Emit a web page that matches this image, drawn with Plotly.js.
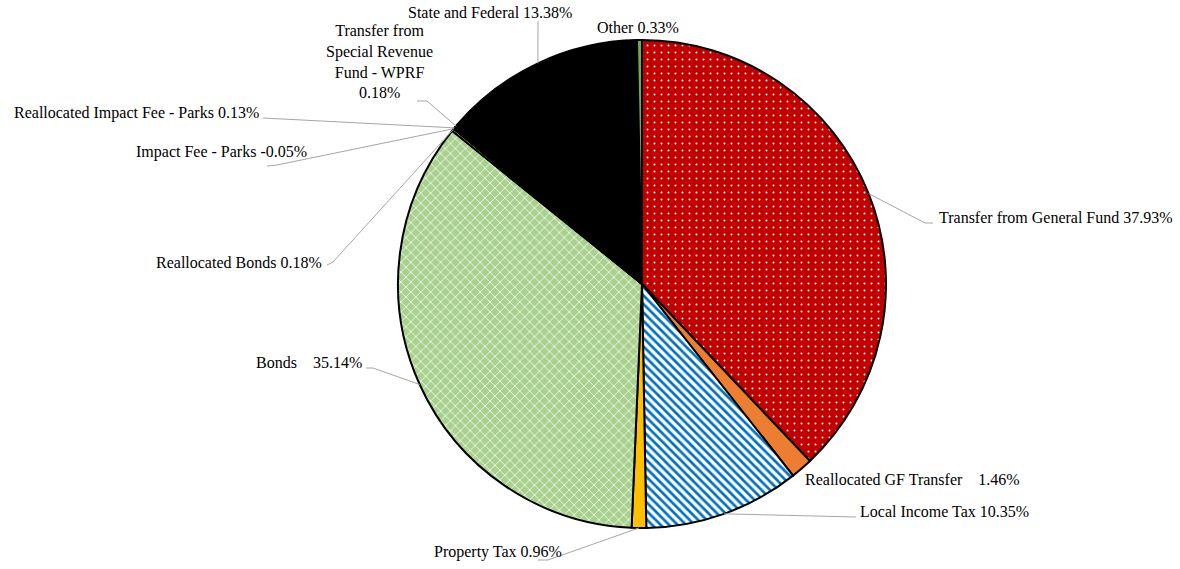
<!DOCTYPE html>
<html>
<head>
<meta charset="utf-8">
<script src="https://cdn.plot.ly/plotly-3.0.1.min.js"></script>
<style>html,body{margin:0;padding:0;background:#fff;}#chart{width:1180px;height:569px;}</style>
</head>
<body>
<div id="chart"></div>
<script>
// ---- data ----
const categories = [
  "Transfer from General Fund",
  "Reallocated GF Transfer",
  "Local Income Tax",
  "Property Tax",
  "Bonds",
  "Reallocated Bonds",
  "Impact Fee - Parks",
  "Reallocated Impact Fee - Parks",
  "Transfer from Special Revenue Fund - WPRF",
  "State and Federal",
  "Other"
];
const shares = [37.93, 1.46, 10.35, 0.96, 35.14, 0.18, -0.05, 0.13, 0.18, 13.38, 0.33];
const labelTexts = [
  "Transfer from General Fund 37.93%",
  "Reallocated GF Transfer\u00a0\u00a0\u00a0 1.46%",
  "Local Income Tax 10.35%",
  "Property Tax 0.96%",
  "Bonds\u00a0\u00a0\u00a0 35.14%",
  "Reallocated Bonds 0.18%",
  "Impact Fee - Parks -0.05%",
  "Reallocated Impact Fee - Parks 0.13%",
  "Transfer from<br>Special Revenue<br>Fund - WPRF<br>0.18%",
  "State and Federal 13.38%",
  "Other 0.33%"
];

// ---- styles ----
const sliceColors = ["#C00000","#ED7D31","#FFFFFF","#FFC000","#A9D18E","#A9D18E","#A9D18E","#375623","#000000","#000000","#70AD47"];
const patShapes   = [".", "", "\\", "", "x", "x", "", "", "", "", ""];
const patFg       = ["#FFFFFF","#000000","#0070C0","#000000","#FFFFFF","#FFFFFF","#000000","#000000","#000000","#000000","#000000"];
const patBg       = ["#C00000","#ED7D31","#FFFFFF","#FFC000","#A9D18E","#A9D18E","#A9D18E","#375623","#000000","#000000","#70AD47"];
const patSize     = [7,8,6,8,7,7,8,8,8,8,8];
const patSolid    = [0.06,0.3,0.45,0.3,0.2,0.2,0.3,0.3,0.3,0.3,0.3];

const FONT = '"Liberation Serif", "Times New Roman", Times, serif';
const W = 1180, H = 569;
const CX = 642, CY = 284, R = 244;
const px = x => x / W;
const py = y => 1 - y / H;

// label layout: [x, y, xanchor, leader-line points from text side (pixels)]
const labelLayout = [
  {x: 937, y: 217, xa: "left",   pts: [[933,223],[925,223]]},
  {x: 803, y: 479, xa: "left",   pts: null},
  {x: 858, y: 512, xa: "left",   pts: [[856,517]]},
  {x: 564, y: 552, xa: "right",  pts: [[538,560],[548,560]]},
  {x: 364, y: 363, xa: "right",  pts: [[366,368],[373,368]]},
  {x: 324, y: 262, xa: "right",  pts: [[327,265],[333,262]]},
  {x: 309, y: 152, xa: "right",  pts: [[267,166],[277,165]]},
  {x: 261, y: 113, xa: "right",  pts: [[263,118]]},
  {x: 380, y: 61,  xa: "center", pts: [[417,101],[427,101]]},
  {x: 490, y: 13,  xa: "center", pts: [[538,21]]},
  {x: 638, y: 28,  xa: "center", pts: null}
];

// anchor points on the pie rim, from the data (negative values occupy no angle)
const positive = shares.map(v => Math.max(v, 0));
const total = positive.reduce((a, b) => a + b, 0);
let cum = 0;
const rimPts = positive.map(v => {
  const mid = cum + v / 2;
  cum += v;
  const ang = mid / total * 2 * Math.PI;
  return [CX + R * Math.sin(ang), CY - R * Math.cos(ang)];
});

const annotations = labelTexts.map((t, i) => ({
  text: t, showarrow: false,
  xref: "paper", yref: "paper",
  x: px(labelLayout[i].x), y: py(labelLayout[i].y),
  xanchor: labelLayout[i].xa, yanchor: "middle",
  align: "center",
  font: {family: FONT, size: 16, color: "#000"}
}));

const shapes = [];
labelLayout.forEach((L, i) => {
  if (!L.pts) return;
  const all = L.pts.concat([rimPts[i]]);
  const d = all.map((p, k) => (k ? "L" : "M") + px(p[0]) + "," + py(p[1])).join(" ");
  shapes.push({type: "path", xref: "paper", yref: "paper", path: d,
    line: {color: "#A6A6A6", width: 1}});
});

const trace = {
  type: "pie",
  labels: categories,
  values: positive,
  sort: false,
  direction: "clockwise",
  rotation: 0,
  textinfo: "none",
  hoverinfo: "label+percent",
  showlegend: false,
  domain: {x: [px(CX - R), px(CX + R)], y: [py(CY + R), py(CY - R)]},
  marker: {
    colors: sliceColors,
    line: {color: "#000000", width: 2},
    pattern: {shape: patShapes, fgcolor: patFg, bgcolor: patBg, size: patSize, solidity: patSolid, fillmode: "replace"}
  }
};

Plotly.newPlot("chart", [trace], {
  width: W, height: H,
  margin: {l: 0, r: 0, t: 0, b: 0},
  paper_bgcolor: "#FFFFFF",
  font: {family: FONT},
  showlegend: false,
  annotations: annotations,
  shapes: shapes
}, {displayModeBar: false, staticPlot: true});
</script>
</body>
</html>
